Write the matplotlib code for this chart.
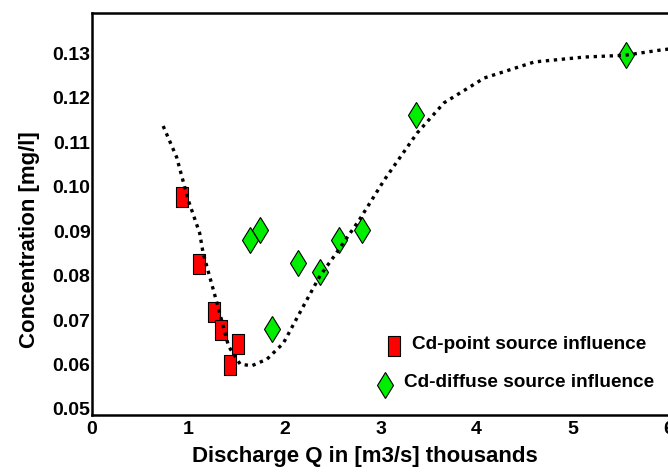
import matplotlib
matplotlib.use("Agg")
import matplotlib.pyplot as plt
from matplotlib.path import Path

plt.rcParams['font.family'] = ['Liberation Sans', 'DejaVu Sans']
plt.rcParams['font.weight'] = 'bold'

# Data
point_q = [0.94, 1.11, 1.27, 1.34, 1.52, 1.43]
point_c = [0.0976, 0.0826, 0.0718, 0.0678, 0.0646, 0.0599]

diffuse_q = [1.64, 1.75, 1.87, 2.14, 2.37, 2.57, 2.81, 3.37, 5.55]
diffuse_c = [0.0880, 0.0902, 0.0680, 0.0828, 0.0808, 0.0880, 0.0902, 0.1161, 0.1296]

trend_q = [0.74, 0.88, 1.00, 1.12, 1.155, 1.30, 1.42, 1.54, 1.66, 1.82, 1.99, 2.16, 2.37,
           2.52, 2.78, 3.04, 3.38, 3.66, 4.08, 4.60, 5.12, 5.54, 5.92, 6.0]
trend_c = [0.1136, 0.1066, 0.0970, 0.0895, 0.0851, 0.0738, 0.0641, 0.0601, 0.0597, 0.0612,
           0.0648, 0.0716, 0.0799, 0.0844, 0.0925, 0.1015, 0.1120, 0.1188, 0.1244, 0.1280,
           0.1291, 0.1295, 0.1307, 0.1309]

xticks = [0, 1, 2, 3, 4, 5, 6]
yticks = [0.05, 0.06, 0.07, 0.08, 0.09, 0.10, 0.11, 0.12, 0.13]
ytick_labels = ['0.05', '0.06', '0.07', '0.08', '0.09', '0.10', '0.11', '0.12', '0.13']

fig = plt.figure(figsize=(6.68, 4.72), dpi=100)
ax = fig.add_axes([92/668, 57/472, 577/668, 402/472])

rect = Path([(-0.28, -0.5), (0.28, -0.5), (0.28, 0.5), (-0.28, 0.5), (-0.28, -0.5)],
            [Path.MOVETO, Path.LINETO, Path.LINETO, Path.LINETO, Path.CLOSEPOLY])

ax.plot(trend_q, trend_c, color='black', linewidth=2.4,
        linestyle=(0, (1, 1.4)), dash_capstyle='butt', zorder=3)
ax.plot(point_q, point_c, linestyle='none', marker=rect, markersize=15,
        markerfacecolor='#ff0000', markeredgecolor='black', markeredgewidth=0.8, zorder=2)
ax.plot(diffuse_q, diffuse_c, linestyle='none', marker='d', markersize=13.5,
        markerfacecolor='#00ee00', markeredgecolor='black', markeredgewidth=0.8, zorder=2)

ax.set_xlim(0, 6)
ax.set_ylim(0.04865, 0.139)
ax.set_xticks(xticks)
ax.set_yticks(yticks)
ax.set_yticklabels(ytick_labels)
ax.tick_params(length=0, labelsize=14)
ax.tick_params(axis='x', pad=4)
ax.tick_params(axis='y', pad=1)
for lab in ax.get_xticklabels() + ax.get_yticklabels():
    lab.set_fontweight('bold')

for s in ['left', 'bottom', 'top']:
    ax.spines[s].set_linewidth(1.8)
ax.spines['right'].set_visible(False)

ax.set_xlabel('Discharge Q in [m3/s] thousands', fontsize=16, fontweight='bold')
ax.set_ylabel('Concentration [mg/l]', fontsize=16, fontweight='bold')
ax.xaxis.set_label_coords((365 - 92) / 577, (415 - 446) / 402)
ax.yaxis.set_label_coords((40 - 92) / 577, (415 - 240) / 402)

# Legend (manual placement)
ax.plot([0.524], [0.172], transform=ax.transAxes, linestyle='none', marker=rect, markersize=15,
        markerfacecolor='#ff0000', markeredgecolor='black', markeredgewidth=0.8, clip_on=False)
ax.text(0.555, 0.175, 'Cd-point source influence', transform=ax.transAxes,
        fontsize=13.7, fontweight='bold', va='center', ha='left')
ax.plot([0.508], [0.075], transform=ax.transAxes, linestyle='none', marker='d', markersize=13.5,
        markerfacecolor='#00ee00', markeredgecolor='black', markeredgewidth=0.8, clip_on=False)
ax.text(0.541, 0.08, 'Cd-diffuse source influence', transform=ax.transAxes,
        fontsize=13.7, fontweight='bold', va='center', ha='left')

fig.savefig('out.png', dpi=100)
